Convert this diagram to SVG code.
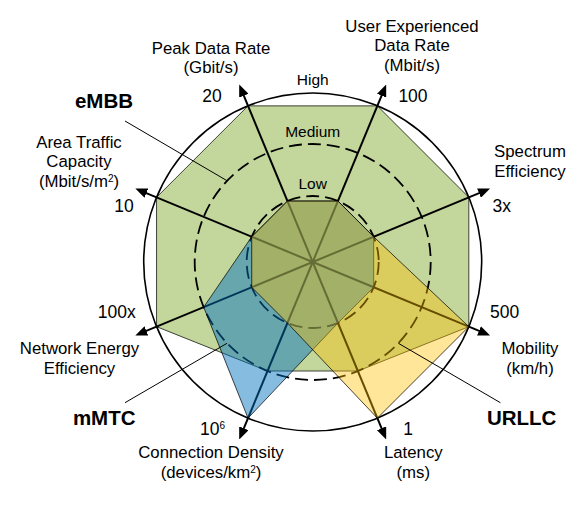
<svg xmlns="http://www.w3.org/2000/svg" width="584" height="510" viewBox="0 0 584 510">
<defs>
<style>
text { font-family: "Liberation Sans", Arial, sans-serif; fill: #000; text-anchor: middle; }
.lbl { font-size: 16.8px; }
.num { font-size: 17.5px; }
.lvl { font-size: 15.5px; }
.uc { font-size: 20.5px; font-weight: bold; }
.sup { font-size: 10px; }
.spoke { stroke: #000; stroke-width: 2; fill: none; marker-end: url(#arr); }
.ring { fill: none; stroke: #000; stroke-width: 1.8; stroke-dasharray: 13 6; }
.call { stroke: #000; stroke-width: 1; fill: none; }
.poly { stroke: #000; stroke-width: 0.9; stroke-opacity: 0.8; stroke-linejoin: round; }
</style>
<marker id="arr" markerUnits="userSpaceOnUse" markerWidth="12" markerHeight="10" refX="6" refY="5" orient="auto"><path d="M0,0 L12,5 L0,10 z" fill="#000"/></marker>
</defs>
<rect width="584" height="510" fill="#fff"/>

<g id="embb">
<polygon class="poly" fill="#c3d69b" points="248.03,105.86 377.37,105.86 468.84,197.33 468.84,326.67 357.86,371.02 267.54,371.02 156.56,326.67 156.56,197.33"/>
<text class="uc" x="104" y="108.3">eMBB</text>
</g>

<g id="rings">
<circle cx="312.7" cy="262" r="169" fill="none" stroke="#000" stroke-width="1.6"/>
<circle class="ring" cx="312.7" cy="262" r="118"/>
<circle class="ring" cx="312.7" cy="262" r="66"/>
<text class="lvl" x="312.7" y="85">High</text>
<text class="lvl" x="312.7" y="136.7">Medium</text>
<text class="lvl" x="312.7" y="189">Low</text>
</g>

<g id="axes">
<line class="spoke" x1="312.7" y1="262" x2="241.52" y2="90.16"/>
<line class="spoke" x1="312.7" y1="262" x2="383.88" y2="90.16"/>
<line class="spoke" x1="312.7" y1="262" x2="484.54" y2="190.82"/>
<line class="spoke" x1="312.7" y1="262" x2="484.54" y2="333.18"/>
<line class="spoke" x1="312.7" y1="262" x2="383.88" y2="433.84"/>
<line class="spoke" x1="312.7" y1="262" x2="241.52" y2="433.84"/>
<line class="spoke" x1="312.7" y1="262" x2="140.86" y2="333.18"/>
<line class="spoke" x1="312.7" y1="262" x2="140.86" y2="190.82"/>
</g>

<g id="mmtc">
<polygon class="poly" fill="#0070c0" fill-opacity="0.47" points="251.72,236.74 203.68,307.16 248.03,418.14 337.96,322.98 373.68,287.26 373.68,236.74 337.96,201.02 287.44,201.02"/>
<text class="uc" x="104.2" y="425">mMTC</text>
</g>

<g id="urllc">
<polygon class="poly" fill="#ffc000" fill-opacity="0.4" points="373.68,236.74 468.84,326.67 377.37,418.14 287.44,322.98 251.72,287.26 251.72,236.74 287.44,201.02 337.96,201.02"/>
<text class="uc" x="521.7" y="425">URLLC</text>
</g>

<g id="callouts">
<line class="call" x1="125" y1="121" x2="227" y2="180.7"/>
<line class="call" x1="125" y1="402.7" x2="227" y2="343.3"/>
<line class="call" x1="398.4" y1="343.3" x2="500.4" y2="402.7"/>
</g>

<g id="axis-peak">
<text class="lbl"><tspan x="211" y="53.5">Peak Data Rate</tspan><tspan x="211" y="73">(Gbit/s)</tspan></text>
<text class="num" x="212" y="101.7">20</text>
</g>
<g id="axis-user">
<text class="lbl"><tspan x="412" y="31.7">User Experienced</tspan><tspan x="412" y="51.4">Data Rate</tspan><tspan x="412" y="71.1">(Mbit/s)</tspan></text>
<text class="num" x="413" y="101.7">100</text>
</g>
<g id="axis-spectrum">
<text class="lbl"><tspan x="530" y="157.3">Spectrum</tspan><tspan x="530" y="177.3">Efficiency</tspan></text>
<text class="num" x="501.7" y="211.7">3x</text>
</g>
<g id="axis-mobility">
<text class="num" x="504.7" y="318.3">500</text>
<text class="lbl"><tspan x="530" y="354.3">Mobility</tspan><tspan x="530" y="374">(km/h)</tspan></text>
</g>
<g id="axis-latency">
<text class="num" x="408" y="435">1</text>
<text class="lbl"><tspan x="413.3" y="458.3">Latency</tspan><tspan x="413.3" y="477.9">(ms)</tspan></text>
</g>
<g id="axis-density">
<text class="num" x="212.5" y="435">10<tspan class="sup" dy="-6">6</tspan></text>
<text class="lbl"><tspan x="211" y="458.3">Connection Density</tspan><tspan x="211" y="477.9">(devices/km<tspan class="sup" dy="-5">2</tspan><tspan dy="5">)</tspan></tspan></text>
</g>
<g id="axis-energy">
<text class="num" x="116.7" y="318.3">100x</text>
<text class="lbl"><tspan x="79.5" y="354.3">Network Energy</tspan><tspan x="79.5" y="374.3">Efficiency</tspan></text>
</g>
<g id="axis-area">
<text class="lbl"><tspan x="79" y="147.7">Area Traffic</tspan><tspan x="79" y="167.3">Capacity</tspan><tspan x="79" y="187">(Mbit/s/m<tspan class="sup" dy="-5">2</tspan><tspan dy="5">)</tspan></tspan></text>
<text class="num" x="124" y="212">10</text>
</g>
</svg>
